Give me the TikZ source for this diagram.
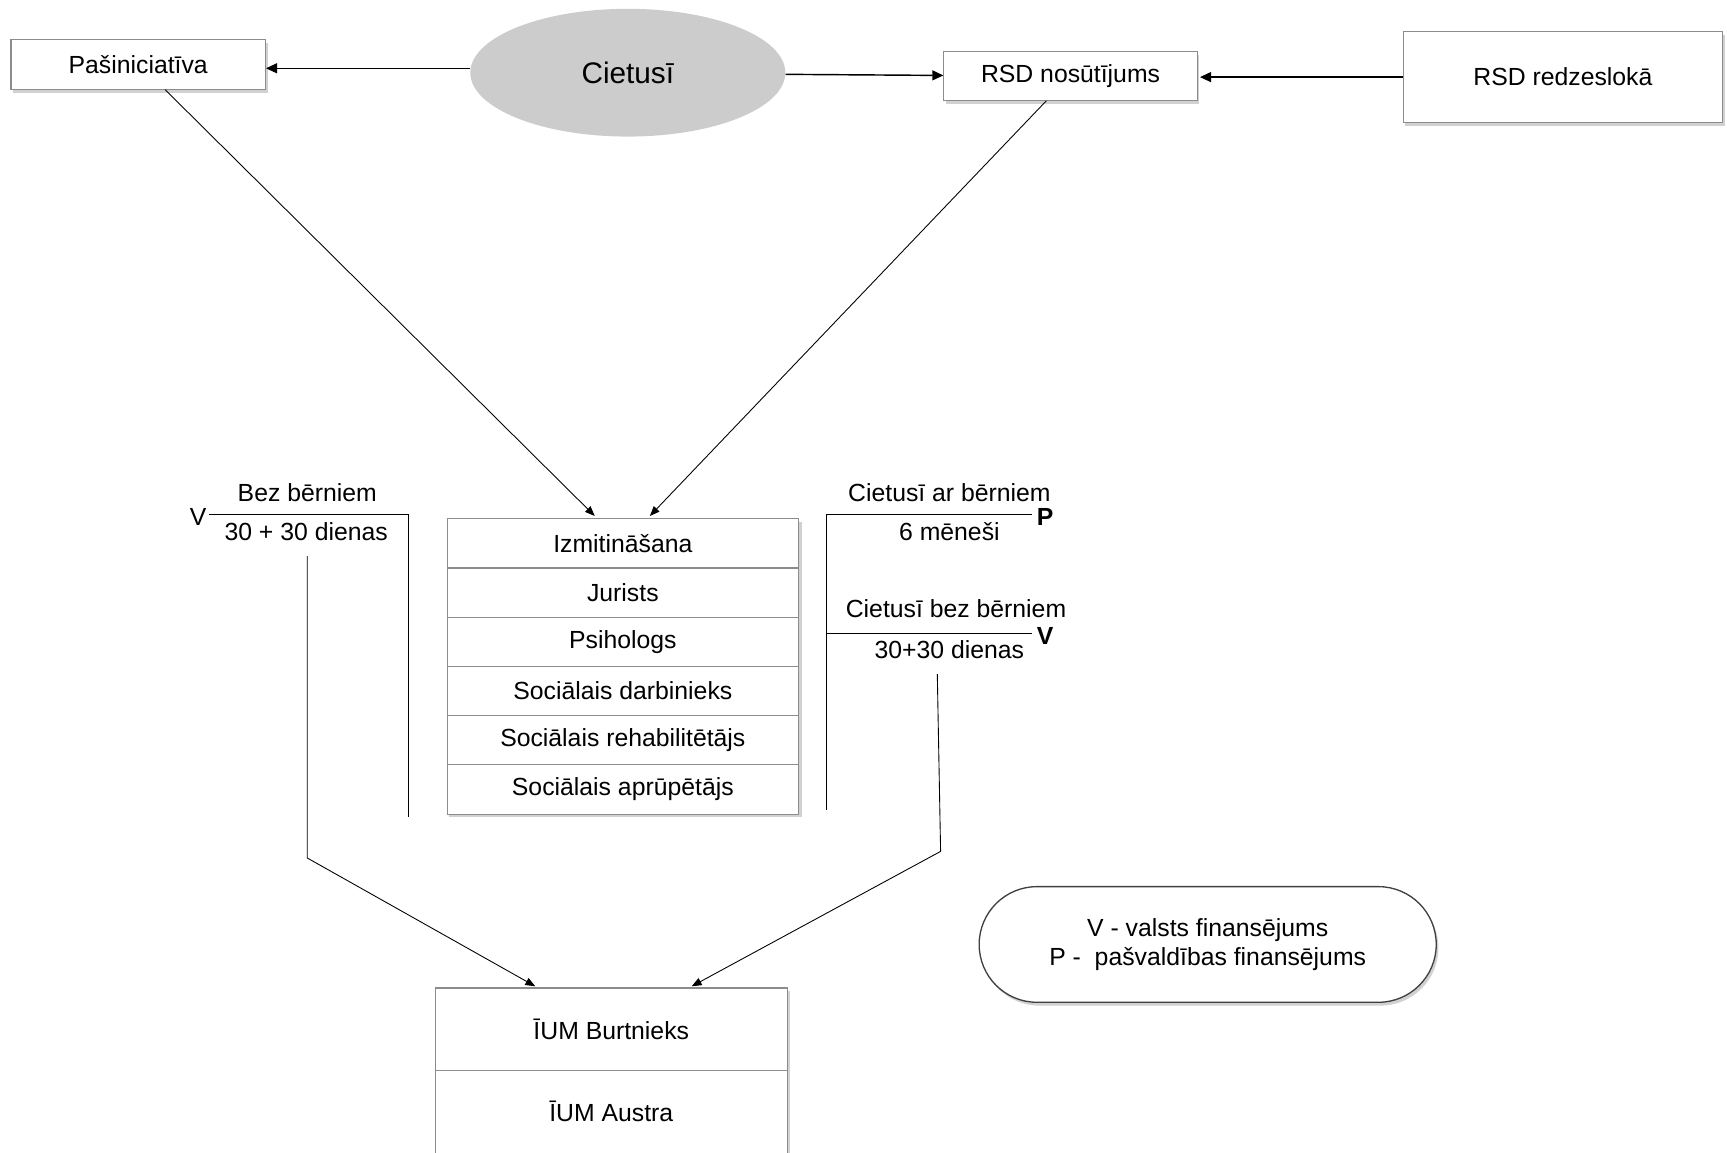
\documentclass[tikz,border=0pt]{standalone}
\usepackage{fontspec}
\setmainfont{Liberation Sans}
\usetikzlibrary{arrows.meta,shapes.geometric,shapes.misc,shadows}
\tikzset{
  txt/.style={font=\fontsize{22.5}{26}\selectfont, inner sep=0pt},
  btxt/.style={font=\fontsize{22.5}{26}\selectfont\bfseries, inner sep=0pt},
  shad/.style={drop shadow={shadow xshift=2pt, shadow yshift=-3pt, fill=gray!45, opacity=0.8}},
  box/.style={draw=gray!90, line width=1pt, fill=white, shad, inner sep=0pt, txt},
  cell/.style={draw=gray!90, line width=1pt, fill=white, minimum width=319pt, minimum height=44.7pt, inner sep=0pt, txt},
  arr/.style={-{Triangle[length=9pt,width=7pt]}, line width=0.8pt},
  harr/.style={-{Triangle[length=10pt,width=9pt]}, line width=1.3pt},
  bar/.style={line width=1pt},
}
\begin{document}
\begin{tikzpicture}[x=1pt,y=-1pt]
\useasboundingbox (0,0) rectangle (1568,1046);
% top row
\node[box, minimum width=231pt, minimum height=45pt] (pas) at (125.5,58.5) {Pašiniciatīva};
\node[ellipse, fill=gray!40, minimum width=286pt, minimum height=116pt, inner sep=0pt,
      font=\fontsize{27}{30}\selectfont] (ciet) at (570,66) {Cietusī};
\node[box, minimum width=230pt, minimum height=44pt] (rsdn) at (972,69) {RSD nosūtījums};
\node[box, minimum width=290pt, minimum height=82pt] (rsdr) at (1419,70) {RSD redzeslokā};
\draw[harr] ([yshift=4pt]ciet.west) -- ([yshift=-3.5pt]pas.east);
\draw[harr] ([yshift=-1.5pt]ciet.east) -- ([yshift=0.5pt]rsdn.west);
\draw[harr] (rsdr.west) -- ([xshift=2pt,yshift=-1pt]rsdn.east);
% services table
\fill[gray!45, opacity=0.8] (408,474) rectangle (728,742);
\foreach \t [count=\i] in {Izmitināšana, Jurists, Psihologs, Sociālais darbinieks, Sociālais rehabilitētājs, Sociālais aprūpētājs}
  \node[cell] (s\i) at (565.5,{471+44.7*(\i-0.5)}) {\t};
\draw[arr] ([xshift=24.5pt]pas.south) -- ([xshift=-25.5pt,yshift=2pt]s1.north);
\draw[arr] ([xshift=-22pt]rsdn.south) -- ([xshift=24.5pt,yshift=2pt]s1.north);
% left bracket
\node[txt] (bez) at (279,447) {Bez bērniem};
\node[txt] (d1) at (278,483) {30 + 30 dienas};
\node[txt] (v1) at (180,469) {V};
\coordinate (l1) at (190,467);
\coordinate (l2) at (371,467);
\coordinate (l3) at (371,742);
\draw[bar] (l1) -- (l2) -- (l3);
% right bracket
\node[txt] (car) at (862,447) {Cietusī ar bērniem};
\node[txt] (m6) at (862,483) {6 mēneši};
\node[btxt] (p1) at (949,469) {P};
\node[txt] (cbez) at (868,553) {Cietusī bez bērniem};
\node[txt] (d2) at (862,590) {30+30 dienas};
\node[btxt] (v2) at (949,577) {V};
\coordinate (r1) at (750,735);
\coordinate (r2) at (750,467);
\coordinate (r3) at (937,467);
\coordinate (r4) at (750,575);
\coordinate (r5) at (937,575);
\draw[bar] (r1) -- (r2) -- (r3);
\draw[bar] (r4) -- (r5);
% shelters
\node[cell, minimum width=320pt, minimum height=75pt, shad] (ium1) at (555,934.5) {ĪUM Burtnieks};
\node[cell, minimum width=320pt, minimum height=75pt, shad] (ium2) at (555,1009.5) {ĪUM Austra};
\coordinate (l4) at (279,505);
\coordinate (l5) at (279,779);
\draw[arr] (l4) -- (l5) -- ([xshift=-69pt,yshift=1pt]ium1.north);
\coordinate (r6) at (851,612);
\coordinate (r7) at (854,773);
\draw[arr] (r6) -- (r7) -- ([xshift=73pt,yshift=1pt]ium1.north);
% legend
\node[rounded rectangle, draw=black!75, line width=1.2pt, fill=white, shad,
      minimum width=415pt, minimum height=105pt, align=center, txt] (leg) at (1096.5,857.5)
      {V - valsts finansējums\\P -\ \ pašvaldības finansējums};
\end{tikzpicture}
\end{document}
